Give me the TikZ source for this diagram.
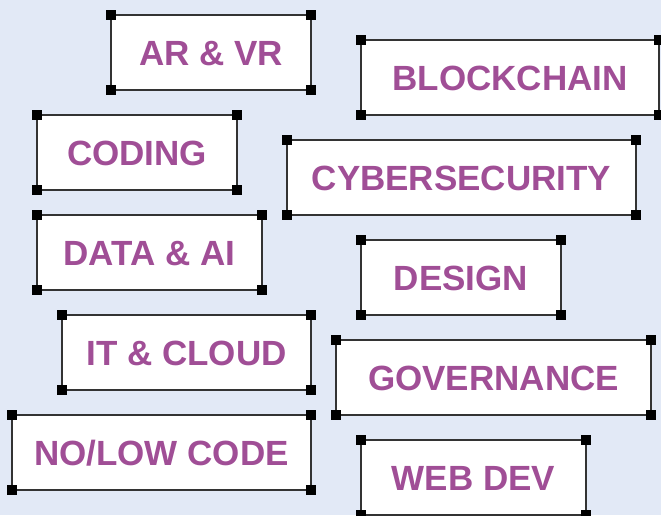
\documentclass[tikz,border=0pt]{standalone}
\usepackage{fontspec}
\setmainfont{Liberation Sans}
\usetikzlibrary{calc}
\definecolor{bgblue}{RGB}{226,233,246}
\definecolor{tagpurple}{RGB}{160,78,150}

\begin{document}
\begin{tikzpicture}[x=1pt, y=-1pt,
	tag/.style={draw=black!80, line width=1.3pt, fill=white, inner sep=0pt, outer sep=0pt,
		minimum height=75pt, text height=25pt, text depth=0pt, text=tagpurple,
		font=\fontsize{35}{40}\selectfont\bfseries},
	handle/.style={fill=black}]
	\def\S{4.8}
	
	\useasboundingbox[fill=bgblue] (0,0) rectangle (661,515);
	
	% left column
	\node[tag, minimum width=200pt]	(ar)		at (211,52.5)	{AR \& VR};
	\node[tag, minimum width=200pt]	(coding)	at (137,152.5)	{CODING};
	\node[tag, minimum width=225pt]	(data)		at (149.5,252.5)	{DATA \& AI};
	\node[tag, minimum width=249pt]	(itcloud)	at (186.5,352.5)	{IT \& CLOUD};
	\node[tag, minimum width=299pt]	(nolow)		at (161.5,452.5)	{NO/LOW CODE};
	
	% right column
	\node[tag, minimum width=298pt]	(block)		at (510,77.5)	{BLOCKCHAIN};
	\node[tag, minimum width=349pt]	(cyber)		at (461.5,177.5)	{CYBERSECURITY};
	\node[tag, minimum width=200pt]	(design)	at (461,277.5)	{DESIGN};
	\node[tag, minimum width=315pt]	(gov)		at (493.5,377.5)	{GOVERNANCE};
	\node[tag, minimum width=225pt]	(web)		at (473.5,477.5)	{WEB DEV};
	
	% corner handles
	\foreach \n in {ar, coding, data, itcloud, nolow, block, cyber, design, gov, web} {
		\foreach \c in {north west, north east, south west, south east}
			\fill[handle] ($(\n.\c)+(-\S,-\S)$) rectangle ($(\n.\c)+(\S,\S)$);
	}
\end{tikzpicture}
\end{document}
